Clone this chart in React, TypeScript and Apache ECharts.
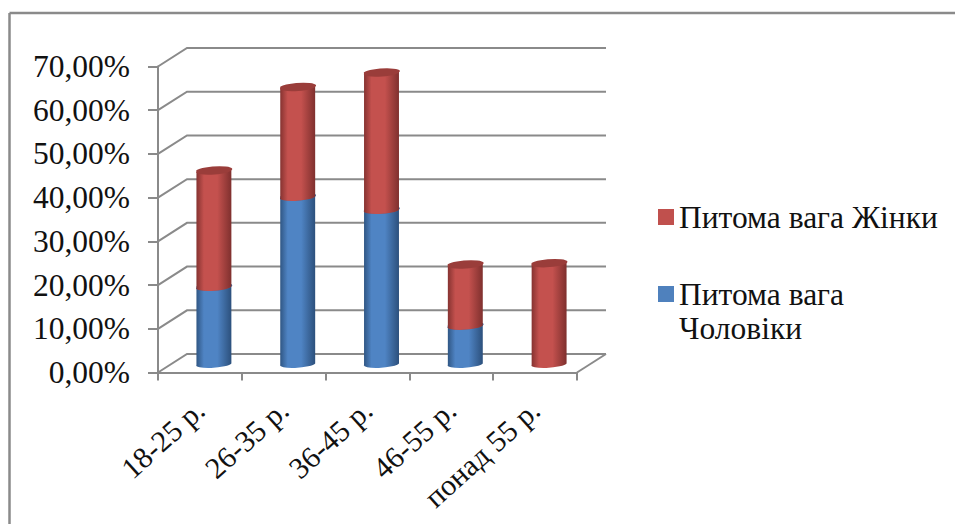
import React, { useEffect, useRef } from "react";
import * as echarts from "echarts";

const categories = ["18-25 р.", "26-35 р.", "36-45 р.", "46-55 р.", "понад 55 р."];
const men = [17.6, 38.2, 35.2, 8.7, 0];
const women = [26.6, 25.1, 31.4, 14.0, 23.0];
const wallTicks = [0, 10, 20, 30, 40, 50, 60, 70];
const menName = "Питома вага Чоловіки";
const womenName = "Питома вага Жінки";

const FONT = "'Liberation Serif', serif";
const GREY = "#8a8a8a";
// Oblique depth of the 3D box, in pixels
const DEPTH_X = 29;
const DEPTH_Y = -18.5;
// Cylinder axis sits halfway into the box
const AXIS_X = 14;
const AXIS_Y = -9;
const RX = 17.5;
const RY = 3.6;
const TILT = -4;

const dRad = (TILT * Math.PI) / 180;

function cylinderItem(colors: { edgeL: string; mid: string; edgeR: string; cap: string }) {
  return (params: any, api: any) => {
    const i = api.value(0);
    const from = api.value(1);
    const to = api.value(2);
    if (to <= from) return { type: "group", children: [] };
    const p0 = api.coord([i, from]);
    const p1 = api.coord([i, to]);
    const cx = p0[0] + AXIS_X;
    const yb = p0[1] + AXIS_Y;
    const yt = p1[1] + AXIS_Y;
    const ex = RX * Math.cos(dRad);
    const ey = RX * Math.sin(dRad);
    const body =
      `M ${cx - ex} ${yt - ey} L ${cx - ex} ${yb - ey} ` +
      `A ${RX} ${RY} ${TILT} 0 0 ${cx + ex} ${yb + ey} ` +
      `L ${cx + ex} ${yt + ey} ` +
      `A ${RX} ${RY} ${TILT} 0 1 ${cx - ex} ${yt - ey} Z`;
    const cap =
      `M ${cx - ex} ${yt - ey} ` +
      `A ${RX} ${RY} ${TILT} 0 0 ${cx + ex} ${yt + ey} ` +
      `A ${RX} ${RY} ${TILT} 0 0 ${cx - ex} ${yt - ey} Z`;
    return {
      type: "group",
      children: [
        {
          type: "path",
          shape: { pathData: body },
          style: {
            fill: new echarts.graphic.LinearGradient(0, 0, 1, 0, [
              { offset: 0, color: colors.edgeL },
              { offset: 0.22, color: colors.mid },
              { offset: 0.6, color: colors.mid },
              { offset: 1, color: colors.edgeR },
            ]),
          },
        },
        { type: "path", shape: { pathData: cap }, style: { fill: colors.cap } },
      ],
    };
  };
}

// Back wall and left wall gridlines, plus the floor's right edge
function wallItem(params: any, api: any) {
  const v = api.value(1);
  const y = api.coord([0, v])[1];
  const left = params.coordSys.x;
  const right = left + params.coordSys.width;
  const lineStyle = { stroke: GREY, lineWidth: 2, fill: "none" };
  const children: any[] = [
    {
      type: "polyline",
      shape: {
        points: [
          [left, y],
          [left + DEPTH_X, y + DEPTH_Y],
          [right + DEPTH_X, y + DEPTH_Y],
        ],
      },
      style: lineStyle,
    },
  ];
  if (v === 0) {
    children.push({
      type: "line",
      shape: { x1: right, y1: y, x2: right + DEPTH_X, y2: y + DEPTH_Y },
      style: lineStyle,
    });
  }
  return { type: "group", children };
}

export default function App() {
  const ref = useRef<HTMLDivElement>(null);

  useEffect(() => {
    const chart = echarts.init(ref.current!, null, { renderer: "svg" });
    chart.setOption({
      animation: false,
      backgroundColor: "#ffffff",
      grid: { left: 158, right: 378, top: 66.5, bottom: 151.5, containLabel: false },
      xAxis: {
        type: "category",
        data: categories,
        axisLine: { lineStyle: { color: GREY, width: 2 } },
        axisTick: { show: true, length: 8, lineStyle: { color: GREY, width: 2 } },
        axisLabel: {
          interval: 0,
          rotate: 42,
          margin: 33,
          fontFamily: FONT,
          fontSize: 30,
          color: "#111",
        },
      },
      yAxis: {
        type: "value",
        min: 0,
        max: 70,
        interval: 10,
        splitLine: { show: false },
        axisLine: { show: true, lineStyle: { color: GREY, width: 2 } },
        axisTick: { show: true, length: 10, lineStyle: { color: GREY, width: 2 } },
        axisLabel: {
          margin: 28,
          fontFamily: FONT,
          fontSize: 31.5,
          color: "#111",
          formatter: (v: number) => v.toFixed(2).replace(".", ",") + "%",
        },
      },
      legend: {
        orient: "vertical",
        left: 653,
        top: 196,
        itemWidth: 16,
        itemHeight: 16,
        itemGap: 10,
        icon: "rect",
        textStyle: { fontFamily: FONT, fontSize: 31.5, color: "#111" },
        // The empty first line keeps the square level with the label's first row
        formatter: (name: string) => (name === menName ? "\nПитома вага\nЧоловіки" : name),
        data: [
          { name: womenName },
          { name: menName, textStyle: { lineHeight: 34 } },
        ],
      },
      graphic: [
        {
          type: "line",
          shape: { x1: 9.5, y1: 13, x2: 955, y2: 13 },
          style: { stroke: GREY, lineWidth: 2.5 },
        },
        {
          type: "line",
          shape: { x1: 9.5, y1: 13, x2: 9.5, y2: 524 },
          style: { stroke: GREY, lineWidth: 2.5 },
        },
      ],
      series: [
        {
          type: "custom",
          z: 1,
          silent: true,
          clip: false,
          renderItem: wallItem,
          encode: { x: 0, y: 1 },
          data: wallTicks.map((v) => [0, v]),
        },
        {
          type: "custom",
          name: menName,
          z: 3,
          clip: false,
          itemStyle: { color: "#4f81bd" },
          renderItem: cylinderItem({
            edgeL: "#2f5582",
            mid: "#4f84c4",
            edgeR: "#2c507c",
            cap: "#3f6a9e",
          }),
          encode: { x: 0, y: [1, 2] },
          data: categories.map((_, i) => [i, 0, men[i]]),
        },
        {
          type: "custom",
          name: womenName,
          z: 4,
          clip: false,
          itemStyle: { color: "#c0504d" },
          renderItem: cylinderItem({
            edgeL: "#843230",
            mid: "#c4514e",
            edgeR: "#7f302e",
            cap: "#9a3d3a",
          }),
          encode: { x: 0, y: [1, 2] },
          data: categories.map((_, i) => [i, men[i], men[i] + women[i]]),
        },
      ],
    });
    return () => chart.dispose();
  }, []);

  return (
    <div
      ref={ref}
      style={{ position: "fixed", left: 0, top: 0, width: 955, height: 524 }}
    />
  );
}
